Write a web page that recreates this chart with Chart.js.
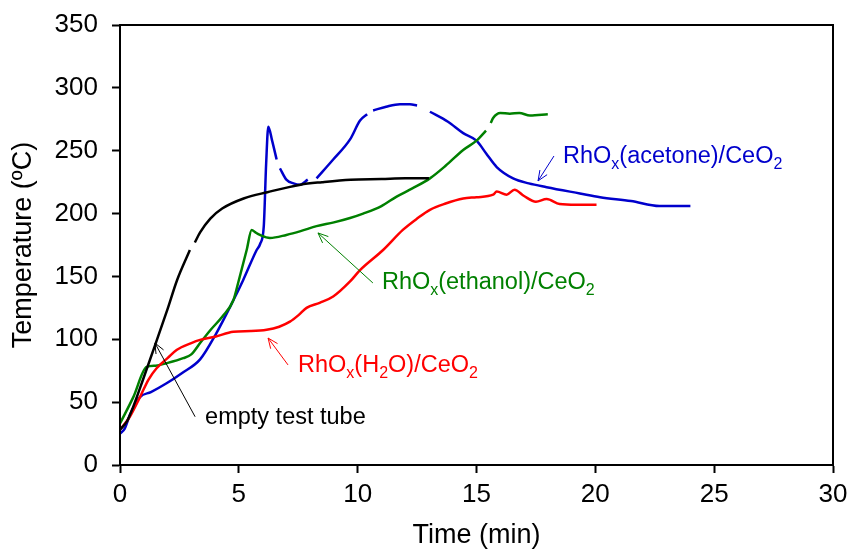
<!DOCTYPE html>
<html>
<head>
<meta charset="utf-8">
<script src="https://cdn.jsdelivr.net/npm/chart.js@4.4.1/dist/chart.umd.min.js"></script>
<style>
html, body { margin: 0; padding: 0; background: #fff; }
#wrap { width: 855px; height: 552px; }
</style>
</head>
<body>
<div id="wrap"><canvas id="myChart"></canvas></div>
<script>
// values (time in min, temperature in C), null = gap in the trace
var emptyTime = [0, 0.3, 0.55, 0.97, 1.47, 2.0, 2.4, 2.94, 3.05, 3.15, 3.37, 3.8, 4.3, 5.2, 6.2, 7.6, 8.5, 9.7, 11, 12, 13];
var emptyTemp = [28, 35, 46, 68, 95, 124, 147, 171, null, 177, 185, 196, 204, 212, 217, 223, 225, 227, 227.5, 228, 228];

var acetoneTime = [0, 0.2, 0.42, 0.84, 1.3, 1.96, 2.6, 3.37, 4.0, 4.77, 5.18, 5.75, 5.9, 6.05, 6.15, 6.24, 6.4, 6.59, 6.65, 6.73, 7.0, 7.3, 7.57, 7.9, 8.05, 8.27, 8.97, 9.68, 10.1, 10.4, 10.5, 10.65, 11.2, 11.78, 12.2, 12.5, 12.6, 13.04, 13.8, 14.44, 15.0, 15.4, 15.85, 16.54, 17.2, 17.95, 19.35, 20.2, 21.5, 22.7, 24.0];
var acetoneTemp = [25, 29, 40, 54, 58, 65, 73, 84, 103, 131, 147, 171, 176, 190, 240, 269, 258, 243, null, 236, 227, 224, 223, 227, null, 228, 243, 259, 274, 279, null, 282, 285, 287, 287, 286, null, 281, 273, 264, 258, 248, 237, 228, 224, 221, 216, 213, 210, 206, 206];

var ethanolTime = [0, 0.56, 1.12, 1.5, 1.96, 2.66, 3.0, 3.37, 3.79, 4.3, 4.77, 5.0, 5.33, 5.54, 5.7, 5.89, 6.31, 7.0, 7.6, 8.27, 9.0, 9.68, 10.23, 11.0, 11.64, 12.3, 13.04, 13.7, 14.44, 15.0, 15.4, 15.5, 15.6, 15.7, 16.0, 16.4, 16.8, 17.25, 18.0];
var ethanolTemp = [33, 54, 78, 79, 81, 85, 88, 97, 107, 118, 131, 147, 171, 187, 185, 183, 180.6, 183, 186, 190, 193, 196.5, 200, 206, 213.5, 220, 228, 238, 250.6, 258, 266, null, 272, 276, 280, 279.5, 280, 278, 279];

var waterTime = [0, 0.4, 0.84, 1.2, 1.54, 2.0, 2.38, 3.0, 3.37, 4.0, 4.77, 5.5, 6.17, 6.7, 7.15, 7.5, 7.85, 8.4, 8.97, 9.68, 10.1, 11.07, 11.9, 12.5, 13.04, 13.7, 14.44, 15.0, 15.7, 15.85, 16.27, 16.6, 17.0, 17.5, 17.95, 18.5, 19.2, 20.05];
var waterTemp = [28, 38, 54, 68, 77, 85, 91.5, 97, 99.5, 102, 106, 106.5, 107.5, 110, 114, 119, 125, 129, 134, 146, 155, 171, 187, 196, 203, 208, 212, 213, 215, 217.5, 215, 219, 214, 209.5, 211.6, 207.6, 207, 207];

var xTicks = [0, 5, 10, 15, 20, 25, 30];
var yTicks = [0, 50, 100, 150, 200, 250, 300, 350];

// labels with arrows, in data units: text position, arrow start, arrow tip
var notes = [
    { color: '#0000cc', parts: [['RhO'], ['x', 1], ['(acetone)/CeO'], ['2', 1]], at: [18.64, 245], from: [18.26, 245.8], to: [17.59, 226] },
    { color: '#008000', parts: [['RhO'], ['x', 1], ['(ethanol)/CeO'], ['2', 1]], at: [11.02, 144.8], from: [10.64, 144.8], to: [8.33, 184.6] },
    { color: '#ff0000', parts: [['RhO'], ['x', 1], ['(H'], ['2', 1], ['O)/CeO'], ['2', 1]], at: [7.49, 78.8], from: [7.07, 79.6], to: [6.23, 101] },
    { color: '#000000', parts: [['empty test tube']], at: [3.58, 37.4], from: [3.16, 38.4], to: [1.47, 97] }
];

function pairs(xs, ys) {
    return xs.map(function (x, i) { return { x: x, y: ys[i] }; });
}

var FONT = 'Liberation Sans, Arial, sans-serif';

var frame = {
    id: 'frame',
    afterDatasetsDraw: function (chart) {
        var ctx = chart.ctx;
        var a = chart.chartArea;
        var xs = chart.scales.x, ys = chart.scales.y;
        ctx.save();
        ctx.strokeStyle = '#000';
        ctx.lineWidth = 2;
        ctx.strokeRect(a.left, a.top, a.right - a.left, a.bottom - a.top);

        notes.forEach(function (n) {
            var x1 = xs.getPixelForValue(n.from[0]), y1 = ys.getPixelForValue(n.from[1]);
            var x2 = xs.getPixelForValue(n.to[0]), y2 = ys.getPixelForValue(n.to[1]);
            ctx.strokeStyle = n.color;
            ctx.lineWidth = 1;
            ctx.beginPath();
            ctx.moveTo(x1, y1);
            ctx.lineTo(x2, y2);
            var ang = Math.atan2(y1 - y2, x1 - x2);
            ctx.moveTo(x2 + 11 * Math.cos(ang + 0.4), y2 + 11 * Math.sin(ang + 0.4));
            ctx.lineTo(x2, y2);
            ctx.lineTo(x2 + 11 * Math.cos(ang - 0.4), y2 + 11 * Math.sin(ang - 0.4));
            ctx.stroke();

            var tx = xs.getPixelForValue(n.at[0]), ty = ys.getPixelForValue(n.at[1]);
            ctx.fillStyle = n.color;
            ctx.textBaseline = 'middle';
            ctx.textAlign = 'left';
            n.parts.forEach(function (p) {
                if (p[1]) {
                    ctx.font = '16px ' + FONT;
                    ctx.fillText(p[0], tx, ty + 8);
                } else {
                    ctx.font = '23.5px ' + FONT;
                    ctx.fillText(p[0], tx, ty);
                }
                tx += ctx.measureText(p[0]).width;
            });
        });
        ctx.restore();
    }
};

function lineSet(data, color) {
    return {
        data: data,
        borderColor: color,
        borderWidth: 2.5,
        pointRadius: 0,
        fill: false,
        spanGaps: false,
        cubicInterpolationMode: 'monotone'
    };
}

var ctx = document.getElementById('myChart').getContext('2d');
var myChart = new Chart(ctx, {
    type: 'line',
    data: {
        datasets: [
            lineSet(pairs(emptyTime, emptyTemp), '#000000'),
            lineSet(pairs(waterTime, waterTemp), '#ff0000'),
            lineSet(pairs(ethanolTime, ethanolTemp), '#008000'),
            lineSet(pairs(acetoneTime, acetoneTemp), '#0000cc')
        ]
    },
    options: {
        responsive: true,
        maintainAspectRatio: false,
        animation: false,
        layout: { padding: { left: 0, right: 22, top: 25, bottom: 0 } },
        plugins: { legend: { display: false }, tooltip: { enabled: false } },
        scales: {
            x: {
                type: 'linear',
                min: 0,
                max: 30,
                afterBuildTicks: function (s) { s.ticks = xTicks.map(function (v) { return { value: v }; }); },
                afterFit: function (s) { s.height = 87; s.paddingLeft = 0; s.paddingRight = 0; },
                ticks: { color: '#000', font: { family: FONT, size: 26 }, padding: 6, maxRotation: 0 },
                grid: { drawOnChartArea: false, drawTicks: true, tickLength: 8, tickColor: '#000', tickWidth: 2 },
                border: { color: '#000', width: 2 },
                title: { display: true, text: 'Time (min)', color: '#000', font: { family: FONT, size: 27 }, padding: { top: 0, bottom: 0 } }
            },
            y: {
                min: 0,
                max: 350,
                afterBuildTicks: function (s) { s.ticks = yTicks.map(function (v) { return { value: v }; }); },
                afterFit: function (s) { s.width = 120; s.paddingTop = 0; s.paddingBottom = 0; },
                ticks: { color: '#000', font: { family: FONT, size: 26 }, padding: 14 },
                grid: { drawOnChartArea: false, drawTicks: true, tickLength: 8, tickColor: '#000', tickWidth: 2 },
                border: { color: '#000', width: 2 },
                title: { display: true, text: 'Temperature (ºC)', color: '#000', font: { family: FONT, size: 27 }, padding: { top: 7, bottom: 0 } }
            }
        }
    },
    plugins: [frame]
});
</script>
</body>
</html>
